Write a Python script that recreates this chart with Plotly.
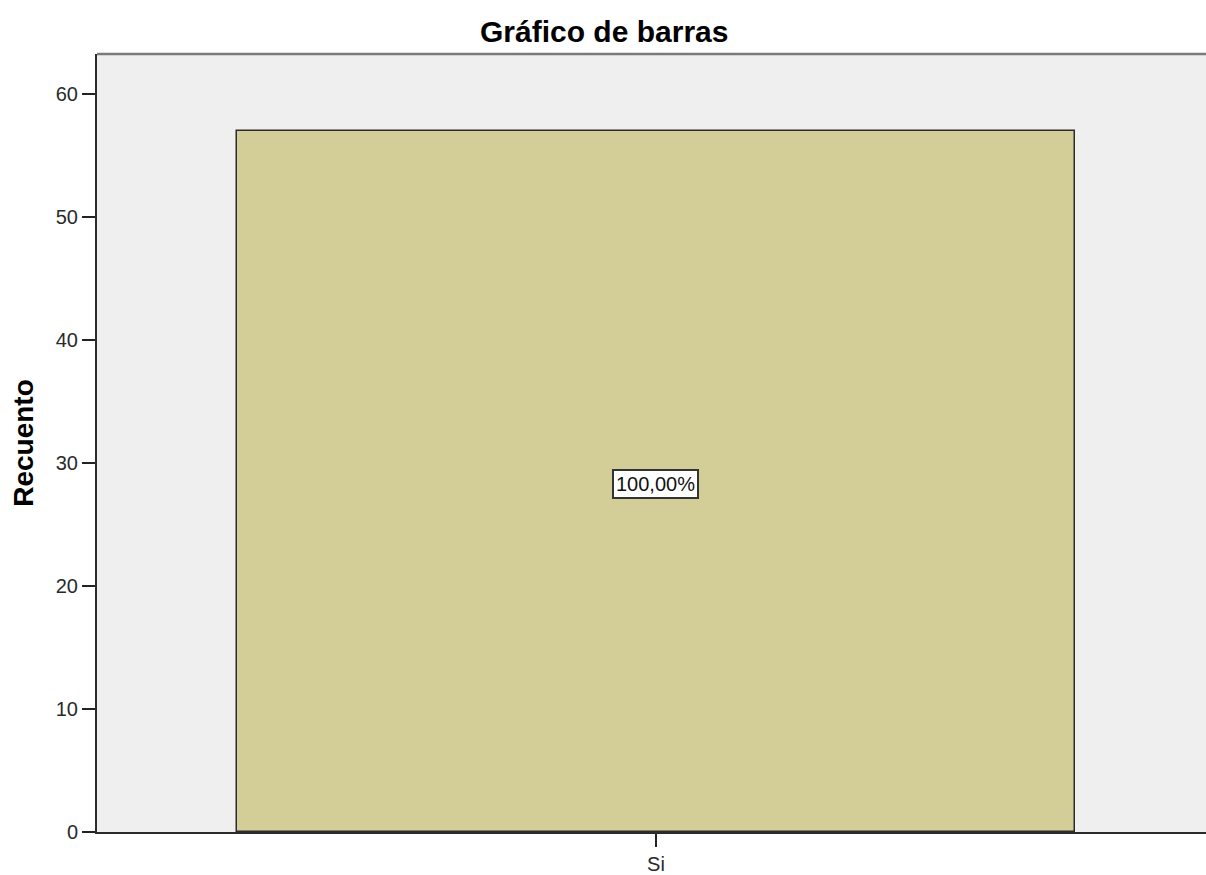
import plotly.graph_objects as go

categories = ["Si"]
counts = [57]
pct_labels = ["100,00%"]

font_family = "Liberation Sans, Arial, sans-serif"

fig = go.Figure()
fig.add_trace(go.Bar(
    x=categories,
    y=counts,
    width=0.75,
    marker=dict(color="#d3cd97", line=dict(color="#2b2b2b", width=1.5)),
    hoverinfo="skip",
))

# percent label in the middle of each bar
for c, v, lab in zip(categories, counts, pct_labels):
    fig.add_annotation(
        x=c, y=v / 2, text=lab, showarrow=False, yshift=-3,
        font=dict(family=font_family, size=20, color="#111"),
        bgcolor="white", bordercolor="#333", borderwidth=2, borderpad=2,
    )

# gray top border of the plot frame
fig.add_shape(type="line", xref="paper", yref="paper", x0=0, x1=1, y0=1, y1=1,
              line=dict(color="#7a7a7a", width=2.5))

fig.update_layout(
    width=1206, height=875,
    margin=dict(l=97, r=0, t=54, b=40),
    paper_bgcolor="white",
    plot_bgcolor="#efefef",
    showlegend=False,
    font=dict(family=font_family, size=20, color="#222"),
    bargap=0,
    annotations=list(fig.layout.annotations) + [
        dict(text="<b>Gráfico de barras</b>", xref="paper", yref="paper",
             x=(604 - 97) / 1109, y=1, yshift=23, showarrow=False,
             xanchor="center", yanchor="middle",
             font=dict(family=font_family, size=30, color="#000")),
    ],
)

fig.update_xaxes(
    type="category",
    range=[-0.5, 0.492],
    showgrid=False, zeroline=False,
    showline=True, linecolor="#2b2b2b", linewidth=2,
    ticks="outside", ticklen=13, tickwidth=1.5, tickcolor="#222",
    tickfont=dict(size=20, color="#2a2a2a"),
)
fig.update_yaxes(
    range=[0, 63.24],
    tickvals=[0, 10, 20, 30, 40, 50, 60],
    showgrid=False, zeroline=False,
    showline=True, linecolor="#2b2b2b", linewidth=2,
    ticks="outside", ticklen=13, tickwidth=1.5, tickcolor="#222",
    tickfont=dict(size=20, color="#2a2a2a"),
    title=dict(text="<b>Recuento</b>", font=dict(size=28, color="#000"), standoff=14),
)

fig.write_html("out.html", config={"displayModeBar": False},
               post_script="document.body.style.margin='0';")
